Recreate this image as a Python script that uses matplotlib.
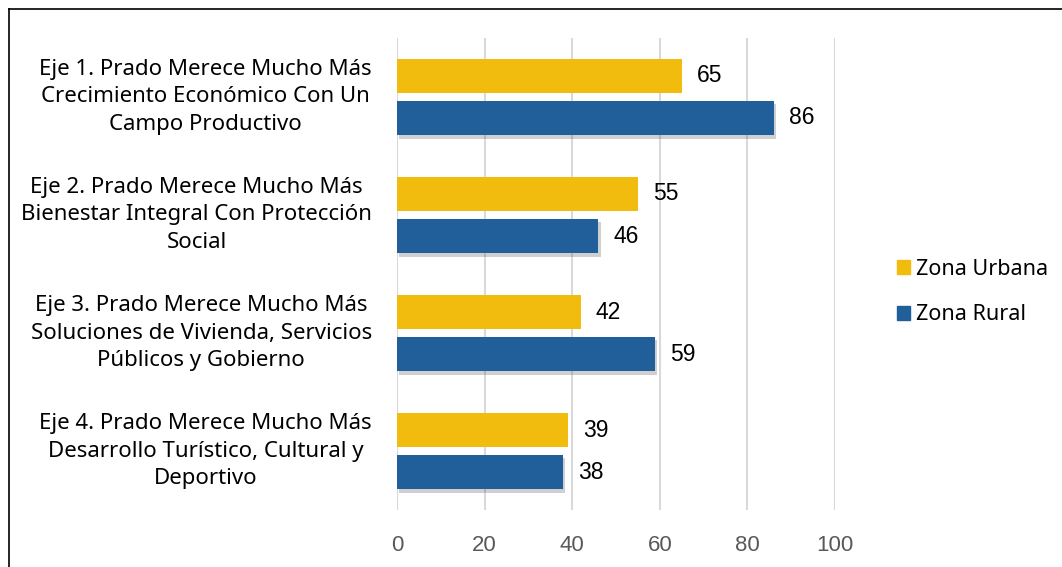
import matplotlib.pyplot as plt
import matplotlib.patheffects as pe
from matplotlib.lines import Line2D
from matplotlib.patches import Patch
import numpy as np

plt.rcParams['font.family'] = ['Noto Sans', 'DejaVu Sans']

categories = [
    "Eje 1. Prado Merece Mucho Más\nCrecimiento Económico Con Un\nCampo Productivo",
    "Eje 2. Prado Merece Mucho Más\nBienestar Integral Con Protección\nSocial",
    "Eje 3. Prado Merece Mucho Más\nSoluciones de Vivienda, Servicios\nPúblicos y Gobierno",
    "Eje 4. Prado Merece Mucho Más\nDesarrollo Turístico, Cultural y\nDeportivo",
]
urbana = [65, 55, 42, 39]
rural = [86, 46, 59, 38]
series_names = ["Zona Urbana", "Zona Rural"]
x_ticks = [0, 20, 40, 60, 80, 100]

yellow = "#F2BC0F"
blue = "#215F9A"
num_font = ["Liberation Sans", "DejaVu Sans"]

fig = plt.figure(figsize=(10.62, 5.67), dpi=100)
ax = fig.add_axes([0.3738, 0.1005, 0.4124, 0.8325])

y = np.arange(len(categories))
h = 0.295
off = 0.178
shadow = [pe.SimplePatchShadow(offset=(1.5, -2.5), shadow_rgbFace="#555555", alpha=0.28), pe.Normal()]

b1 = ax.barh(y - off, urbana, height=h, color=yellow, zorder=3)
b2 = ax.barh(y + off, rural, height=h, color=blue, zorder=3)
for b in b2:
    b.set_path_effects(shadow)

for yi, v in zip(y - off, urbana):
    ax.text(v + 3.4, yi, str(v), va="center", ha="left", fontsize=16.5, color="black", family=num_font)
for yi, v in zip(y + off, rural):
    ax.text(v + 3.4, yi, str(v), va="center", ha="left", fontsize=16.5, color="black", family=num_font)

ax.set_xlim(0, 100)
ax.set_ylim(len(categories) - 0.5, -0.5)
ax.set_xticks(x_ticks)
ax.set_xticklabels([str(t) for t in x_ticks], fontsize=16, color="#595959", family=num_font)
ax.set_yticks(y)
ax.set_yticklabels(categories, fontsize=16, multialignment="center", linespacing=1.42, va="center")
ax.tick_params(axis="y", length=0, pad=18)
ax.tick_params(axis="x", length=0, pad=18)
ax.xaxis.grid(True, color="#d9d9d9", linewidth=1.5, zorder=0)
ax.set_axisbelow(True)
for s in ax.spines.values():
    s.set_visible(False)

handles = [Patch(color=yellow), Patch(color=blue)]
fig.legend(handles, series_names, loc="center left", bbox_to_anchor=(0.826, 0.485),
           frameon=False, fontsize=15.5, handlelength=0.6, handleheight=0.6,
           handletextpad=0.3, labelspacing=1.15)

# outer frame
fig.add_artist(Line2D([9 / 1062, 1], [1 - 9 / 567, 1 - 9 / 567], color="black", linewidth=1.2))
fig.add_artist(Line2D([9 / 1062, 9 / 1062], [0, 1 - 9 / 567], color="black", linewidth=1.2))

fig.savefig("out.png", dpi=100)
